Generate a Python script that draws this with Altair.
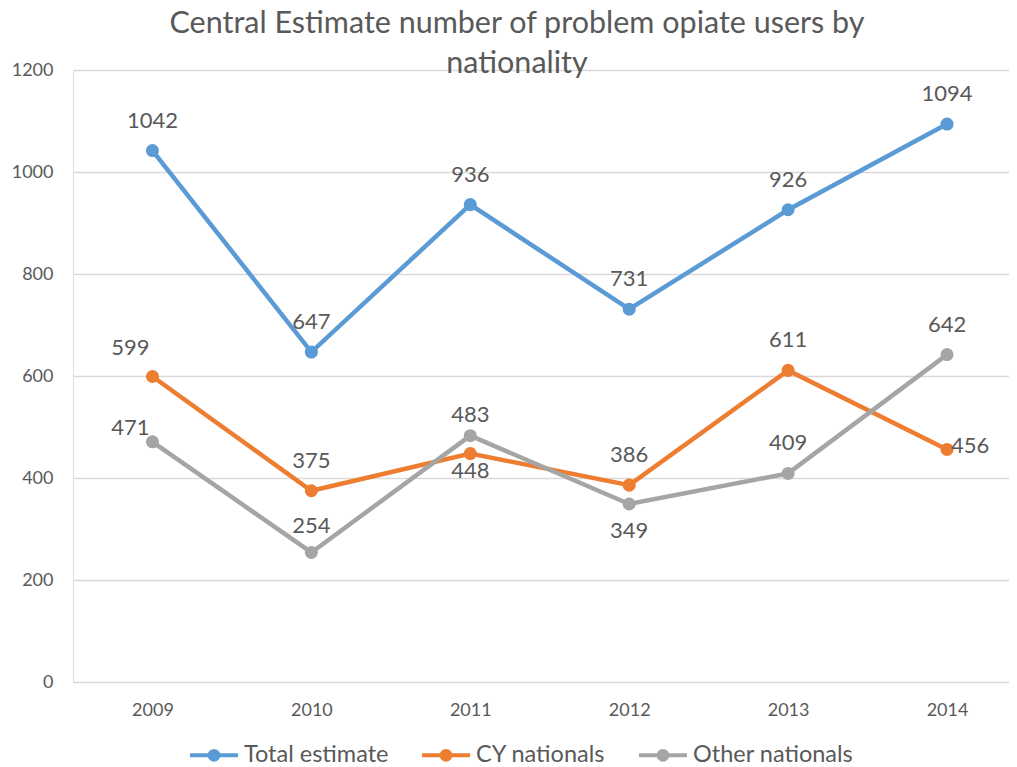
import altair as alt
import pandas as pd

years = [2009, 2010, 2011, 2012, 2013, 2014]
series_names = ["Total estimate", "CY nationals", "Other nationals"]
total_estimate = [1042, 647, 936, 731, 926, 1094]
cy_nationals = [599, 375, 448, 386, 611, 456]
other_nationals = [471, 254, 483, 349, 409, 642]
series_colors = ["#5B9BD5", "#ED7D31", "#A5A5A5"]
y_ticks = [0, 200, 400, 600, 800, 1000, 1200]

# label placement keywords (which side of the point each data label sits on)
total_place = ["above", "above", "above", "above", "above", "above"]
cy_place = ["above-left", "above", "below-near", "above", "above", "right"]
other_place = ["left", "above-mid", "above-near", "below", "above", "above"]

rows = []
for name, vals, places in zip(series_names,
                              [total_estimate, cy_nationals, other_nationals],
                              [total_place, cy_place, other_place]):
    for yr, v, p in zip(years, vals, places):
        rows.append({"year": yr, "series": name, "value": v, "place": p})
df = pd.DataFrame(rows)

FONT = "Lato"
TXT = "#595959"
LEGEND_PATH = "M-1,0L1,0M0.18,0A0.18,0.18,0,1,1,-0.18,0A0.18,0.18,0,1,1,0.18,0Z"

x_enc = alt.X("year:Q",
              scale=alt.Scale(domain=[2008.5, 2014.39], nice=False, zero=False),
              axis=alt.Axis(title=None, values=years, format="d", labelAngle=0,
                            ticks=False, domain=False, grid=False,
                            labelFontSize=18, labelPadding=19,
                            labelColor=TXT, labelFont=FONT))
y_enc = alt.Y("value:Q",
              scale=alt.Scale(domain=[0, 1200], nice=False),
              axis=alt.Axis(title=None, values=y_ticks, format="d", ticks=False,
                            domain=False, gridColor="#D9D9D9", gridWidth=1.3,
                            labelFontSize=18, labelPadding=20,
                            labelColor=TXT, labelFont=FONT))
color_enc = alt.Color("series:N",
                      scale=alt.Scale(domain=series_names, range=series_colors),
                      legend=alt.Legend(title=None, orient="none", direction="horizontal",
                                        legendX=115, legendY=659,
                                        symbolType=LEGEND_PATH, symbolSize=2304,
                                        symbolStrokeWidth=4,
                                        labelFontSize=23.5, labelFont=FONT,
                                        labelColor=TXT, labelLimit=400,
                                        columnPadding=25,
                                        labelOffset=4, padding=0))

lines = alt.Chart(df).mark_line(
    strokeWidth=4.5,
    point=alt.OverlayMarkDef(filled=True, size=170, opacity=1),
).encode(x=x_enc, y=y_enc, color=color_enc)

placements = {
    "above": dict(dy=-30),
    "above-mid": dict(dy=-26),
    "above-near": dict(dy=-21),
    "below": dict(dy=27),
    "below-near": dict(dy=17),
    "above-left": dict(dx=-22, dy=-29),
    "left": dict(dx=-22, dy=-14),
    "right": dict(dx=4, dy=-3, align="left"),
}

text_layers = []
for key, kw in placements.items():
    params = dict(baseline="middle", fontSize=22, font=FONT, color=TXT, align="center")
    params.update(kw)
    text_layers.append(
        alt.Chart(df).transform_filter(alt.datum.place == key)
        .mark_text(**params)
        .encode(x=x_enc, y=y_enc, text="value:Q")
    )

chart = alt.layer(lines, *text_layers).properties(
    width=936,
    height=612,
    autosize=alt.AutoSizeParams(type="none"),
    padding={"left": 65, "top": 62, "right": 0, "bottom": 84},
    title=alt.TitleParams(
        text=["Central Estimate number of problem opiate users by", "nationality"],
        fontSize=30.5, font=FONT, color=TXT, fontWeight="normal",
        anchor="middle", dx=-24, offset=-18.5, lineHeight=40,
    ),
).configure_view(stroke=None).configure(background="white")

chart.save("out.html", embed_options={"renderer": "svg", "actions": False})
